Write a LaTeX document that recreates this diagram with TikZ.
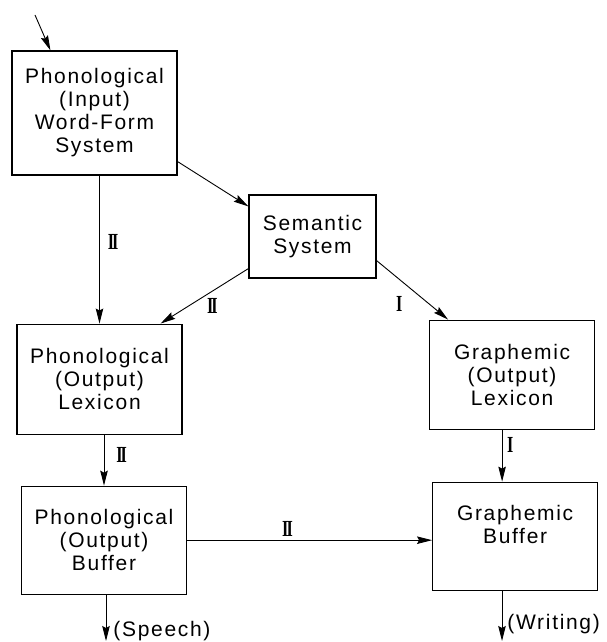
\documentclass[tikz,border=0pt]{standalone}
\usepackage{fontspec}
\setmainfont{Liberation Sans}[LetterSpace=8]
\newfontfamily\numfont{Liberation Serif}[FakeStretch=0.7]
\usetikzlibrary{arrows.meta,positioning}
\tikzset{
  wbox/.style={draw,line width=1.1pt,align=center,minimum width=165pt,
               minimum height=109pt,inner sep=2pt,font=\fontsize{21}{23}\selectfont},
  wlink/.style={-{Stealth[length=15pt,width=7.5pt,inset=2pt]},line width=0.9pt},
  wnum/.style={inner sep=0pt,font=\numfont\bfseries\fontsize{23}{23}\selectfont},
  wout/.style={inner sep=0pt,font=\fontsize{21}{23}\selectfont},
}
\newcommand{\routetwo}{I\kern-2ptI}

\begin{document}
\begin{tikzpicture}[x=1pt,y=1pt]
    \useasboundingbox (0,0) rectangle (606,642);
    \node[wbox,minimum height=124pt] (phin) at (94.5,529) {Phonological\\(Input)\\Word-Form\\System};
    \node[wbox,minimum width=127pt,minimum height=83pt] (sem) at (312.5,405.5) {Semantic\\System};
    \node[wbox,minimum height=110pt,below=148pt of phin,xshift=5pt] (phlex) {Phonological\\(Output)\\Lexicon};
    \node[wbox,minimum height=108pt,below=51pt of phlex,xshift=4.5pt] (phbuf) {Phonological\\(Output)\\Buffer};
    \node[wbox,minimum height=108pt,right=245pt of phbuf,yshift=4pt] (grbuf) {Graphemic\\Buffer\\\mbox{}};
    \node[wbox,above=52pt of grbuf,xshift=-3pt] (grlex) {Graphemic\\(Output)\\Lexicon};
    \coordinate (inp) at (35,627);
    \coordinate (speech) at (106,1);
    \coordinate (writing) at (502,1);
    % input and the two routes out of the word-form system
    \draw[wlink] (inp) -- ([xshift=39pt]phin.north west);
    \draw[wlink] (phin.south -| phlex.north) -- node[wnum,pos=0.45,right=8pt]{\routetwo} (phlex.north);
    \draw[wlink] ([yshift=14pt]phin.south east) -- ([yshift=-12pt]sem.north west);
    % semantic system to the lexicons
    \draw[wlink] ([yshift=10pt]sem.south west) -- node[wnum,pos=0.41,below=7pt]{\routetwo} ([xshift=-22pt]phlex.north east);
    \draw[wlink] ([yshift=18pt]sem.south east) -- node[wnum,pos=0.45,below left=9pt and 6pt]{I} ([xshift=19pt]grlex.north west);
    % lexicons to buffers
    \draw[wlink] (phlex.south -| phbuf.north) -- node[wnum,pos=0.39,right=12pt]{\routetwo} (phbuf.north);
    \draw[wlink] ([xshift=-10pt]grlex.south) -- node[wnum,pos=0.3,right=4.5pt]{I} ([xshift=-10pt]grlex.south |- grbuf.north);
    \draw[wlink] (phbuf.east) -- node[wnum,pos=0.41,above=3pt]{\routetwo} (phbuf.east -| grbuf.west);
    % outputs
    \draw[wlink] (phbuf.south -| speech) -- node[wout,pos=0.78,right=7pt]{(Speech)} (speech);
    \draw[wlink] (grbuf.south -| writing) -- node[wout,pos=0.66,right=5pt]{(Writing)} (writing);
\end{tikzpicture}
\end{document}
